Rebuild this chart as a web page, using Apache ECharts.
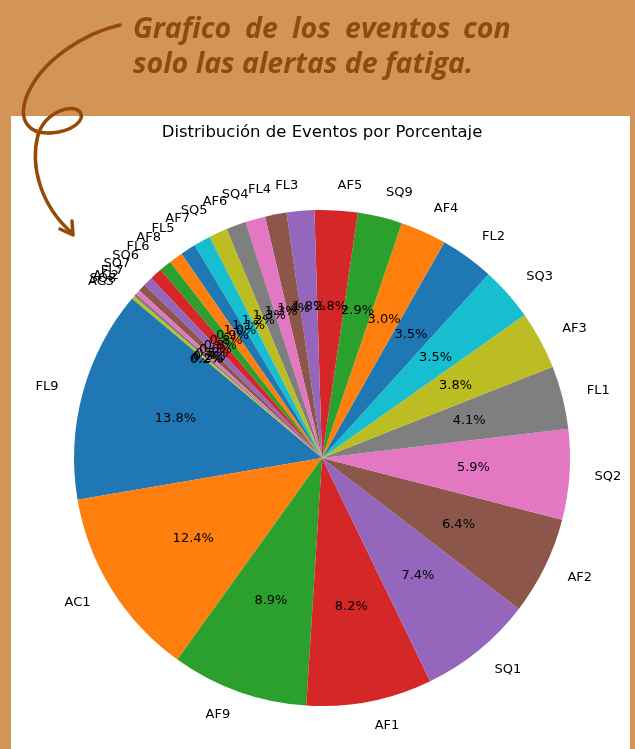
<!DOCTYPE html>
<html>
<head>
<meta charset="utf-8">
<script src="https://cdn.jsdelivr.net/npm/echarts@6/dist/echarts.min.js"></script>
<style>
html,body{margin:0;padding:0;background:#d39458;}
#grafico{width:635px;height:749px;}
</style>
</head>
<body>
<div id="grafico"></div>
<script>
// eventos de fatiga y su porcentaje (orden de la torta)
var eventos = ['FL9','AC1','AF9','AF1','SQ1','AF2','SQ2','FL1','AF3','SQ3','FL2','AF4','SQ9','AF5',
               'FL3','FL4','SQ4','AF6','SQ5','AF7','FL5','AF8','FL6','SQ6','SQ7','FL7','AC2','SQ8','AC3'];
var porcentajes = [13.8,12.4,8.9,8.2,7.4,6.4,5.9,4.1,3.8,3.5,3.5,3.0,2.9,2.8,
                   1.8,1.4,1.3,1.3,1.2,1.1,1.0,0.9,0.8,0.8,0.6,0.5,0.3,0.2,0.2];
var colores = ['#1f77b4','#ff7f0e','#2ca02c','#d62728','#9467bd','#8c564b','#e377c2','#7f7f7f','#bcbd22','#17becf'];

var cafe = '#8f4a10';
var radio = 248;

var datos = [];
for (var i = 0; i < eventos.length; i++) {
    datos.push({name: eventos[i], value: porcentajes[i]});
}

function palabra(txt, x, y) {
    return {type: 'text', x: x, y: y, style: {text: txt, font: 'italic bold 28.5px "Open Sans"', fill: cafe}};
}
function curva(p) {
    return {type: 'bezierCurve', z: 10,
        shape: {x1: p[0], y1: p[1], cpx1: p[2], cpy1: p[3], cpx2: p[4], cpy2: p[5], x2: p[6], y2: p[7]},
        style: {fill: null, stroke: '#954a06', lineWidth: 3.5, lineCap: 'round'}};
}

var myChart = echarts.init(document.getElementById('grafico'));
var option = {
    animation: false,
    color: colores,
    title: {
        text: 'Distribución de Eventos por Porcentaje',
        left: 317,
        top: 119,
        textAlign: 'center',
        textStyle: {fontFamily: 'DejaVu Sans', fontSize: 16.5, fontWeight: 'normal', color: '#000'}
    },
    graphic: [
        {type: 'rect', z: -10, shape: {x: 11, y: 116, width: 619, height: 640}, style: {fill: '#ffffff'}},
        // texto del encabezado (justificado a mano)
        palabra('Grafico', 133, 15),
        palabra('de', 245, 15),
        palabra('los', 292, 15),
        palabra('eventos', 345, 15),
        palabra('con', 463, 15),
        palabra('solo las alertas de fatiga.', 133, 50),
        // flecha
        curva([120,25, 85,33, 40,60, 26,98]),
        curva([26,98, 18,122, 30,134, 50,133]),
        curva([50,133, 72,132, 86,120, 80,112]),
        curva([80,112, 72,103, 45,112, 38,135]),
        curva([38,135, 30,165, 40,205, 72,233]),
        {type: 'polyline', z: 10, shape: {points: [[60,229],[73,235],[72,221]]},
         style: {fill: null, stroke: '#954a06', lineWidth: 3.5, lineCap: 'round', lineJoin: 'round'}}
    ],
    series: [
        {
            name: 'Eventos',
            type: 'pie',
            center: [322, 458],
            radius: radio,
            startAngle: 140,
            clockwise: false,
            avoidLabelOverlap: false,
            silent: true,
            itemStyle: {borderWidth: 0},
            label: {
                position: 'outside',
                formatter: '{b}',
                fontFamily: 'DejaVu Sans',
                fontSize: 13,
                color: '#000',
                distanceToLabelLine: 0
            },
            labelLine: {show: false, length: 25, length2: 0},
            labelLayout: {hideOverlap: false},
            data: datos
        },
        {
            name: 'Porcentaje',
            type: 'pie',
            center: [322, 458],
            radius: radio * 1.2,
            startAngle: 140,
            clockwise: false,
            avoidLabelOverlap: false,
            silent: true,
            itemStyle: {color: 'rgba(0,0,0,0)', borderWidth: 0},
            label: {
                position: 'inside',
                formatter: function (p) { return p.value.toFixed(1) + '%'; },
                fontFamily: 'DejaVu Sans',
                fontSize: 13,
                color: '#000'
            },
            labelLine: {show: false},
            labelLayout: {hideOverlap: false},
            data: datos
        }
    ]
};
myChart.setOption(option);
</script>
</body>
</html>
